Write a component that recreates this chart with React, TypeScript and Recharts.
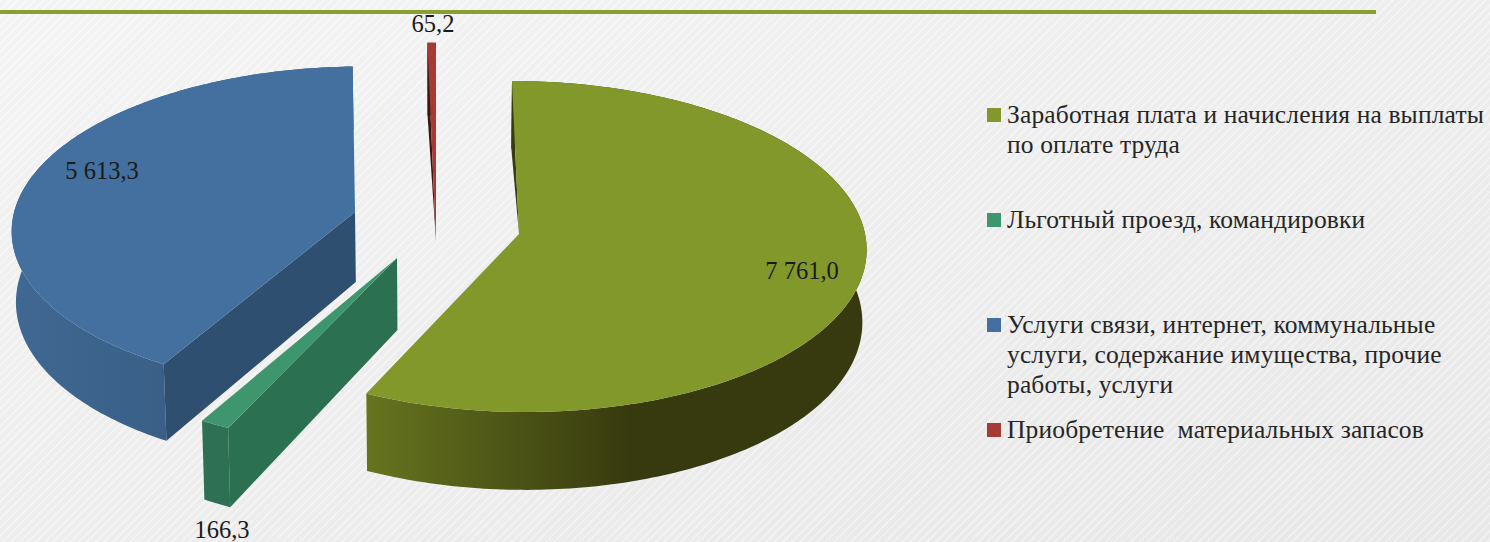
import React from "react";
import { PieChart, Pie, Legend } from "recharts";

const CATEGORIES = [
  "Заработная плата и начисления на выплаты по оплате труда",
  "Льготный проезд, командировки",
  "Услуги связи, интернет, коммунальные услуги, содержание имущества, прочие работы, услуги",
  "Приобретение  материальных запасов",
];
const VALUES = [7761.0, 166.3, 5613.3, 65.2];
const VALUE_LABELS = ["7 761,0", "166,3", "5 613,3", "65,2"];
const COLORS = ["#83982a", "#3d966e", "#43709e", "#a63a35"];
const EDGE_COLORS = ["#363b10", "#2c7052", "#2f4f70", "#3d1512"];
const WALL_STOPS: [number, string][][] = [
  [[0, "#66741f"], [0.53, "#373a0e"], [1, "#373a0e"]],
  [[0, "#2e7053"], [1, "#2e7053"]],
  [[0, "#3f6892"], [1, "#33557a"]],
  [[0, "#3d1512"], [1, "#3d1512"]],
];

// Slice placement relative to the pie's centre: explosion, ellipse scale, perspective, thickness.
const GEOMETRY = [
  { dx: 83, dy: -6, rx: 1.003, ry: 0.477, p: 0.0755, depth: 72, shear: 7, labelDx: 283, labelDy: 36 },
  { dx: -39, dy: 18, rx: 1.04, ry: 0.496, p: 0.1, depth: 72, shear: 0, labelDx: -175, labelDy: 271 },
  { dx: -81, dy: -28, rx: 0.988, ry: 0.464, p: 0.1, depth: 70, shear: -7, labelDx: -253, labelDy: -42 },
  { dx: 0, dy: 1, rx: 0.905, ry: 0.632, p: 0.1, depth: 80, shear: 0, labelDx: -3, labelDy: -218 },
];

const VANISH_X = 440;
const SHRINK = 0.01;
const CHART_W = 1490;
const CHART_H = 542;
const PIE_CX = 436;
const PIE_CY = 240;
const PIE_R = 345;
const SERIF = '"Liberation Serif", serif';

const tableData = CATEGORIES.map((name, i) => ({ name, value: VALUES[i], fill: COLORS[i] }));

function SliceShape(props: any) {
  const i = CATEGORIES.indexOf(props.name ?? props.payload?.name);
  const g = GEOMETRY[i];
  const cx = props.cx + g.dx;
  const cy = props.cy + g.dy;
  const rx = props.outerRadius * g.rx;
  const ry = props.outerRadius * g.ry;
  const a0 = ((90 - props.startAngle) * Math.PI) / 180;
  const a1 = ((90 - props.endAngle) * Math.PI) / 180;

  const project = (t: number, bottom: boolean) => {
    const u = Math.sin(t);
    const v = -Math.cos(t);
    const s = 1 / (1 - g.p * v);
    let x = cx + rx * u * s + g.shear * v;
    let y = cy + ry * v * s;
    if (bottom) {
      y += g.depth * s;
      x += (VANISH_X - x) * SHRINK;
    }
    return [x, y];
  };
  const centre = (bottom: boolean) => {
    let x = cx;
    let y = cy;
    if (bottom) {
      y += g.depth;
      x += (VANISH_X - x) * SHRINK;
    }
    return [x, y];
  };

  const steps = Math.max(4, Math.ceil((a1 - a0) * 60));
  const top: number[][] = [];
  const low: number[][] = [];
  for (let k = 0; k <= steps; k++) {
    const t = a0 + ((a1 - a0) * k) / steps;
    top.push(project(t, false));
    low.push(project(t, true));
  }
  const d = (pts: number[][]) =>
    "M" + pts.map((p) => p[0].toFixed(2) + " " + p[1].toFixed(2)).join("L") + "Z";

  const xs = top.concat(low).map((p) => p[0]);
  const xmin = Math.min(...xs);
  const xmax = Math.max(...xs);
  const gid = "wall" + i;

  // The wall along the starting edge: seen edge-on when that edge points away from the viewer.
  const startsBack = -Math.cos(a0) < 0;
  const startWall = startsBack
    ? [top[0], low[0], centre(false)]
    : [top[0], low[0], centre(true), centre(false)];

  return (
    <g>
      <defs>
        <linearGradient id={gid} gradientUnits="userSpaceOnUse" x1={xmin} x2={xmax} y1={0} y2={0}>
          {WALL_STOPS[i].map(([o, c], k) => (
            <stop key={k} offset={o} stopColor={c} />
          ))}
        </linearGradient>
      </defs>
      <path d={d(top.concat(low.slice().reverse()))} fill={`url(#${gid})`} />
      <path d={d(startWall)} fill={EDGE_COLORS[i]} />
      <path d={d([centre(false), ...top])} fill={props.fill} />
    </g>
  );
}

function renderLabel(props: any) {
  const i = CATEGORIES.indexOf(props.name ?? props.payload?.name);
  const g = GEOMETRY[i];
  return (
    <text
      x={PIE_CX + g.dx + g.labelDx}
      y={PIE_CY + g.dy + g.labelDy}
      textAnchor="middle"
      dominantBaseline="central"
      fontFamily={SERIF}
      fontSize={24.5}
      fill="#1a1a1a"
    >
      {VALUE_LABELS[i]}
    </text>
  );
}

function LegendContent({ payload }: any) {
  return (
    <div>
      {(payload || []).map((entry: any) => (
        <div key={entry.value} style={{ height: 105, display: "flex", alignItems: "flex-start" }}>
          <span
            style={{
              width: 14,
              height: 14,
              marginTop: 8,
              marginRight: 6,
              flex: "none",
              background: entry.color,
            }}
          />
          <span
            style={{
              fontFamily: SERIF,
              fontSize: 25.5,
              letterSpacing: 0.15,
              lineHeight: "30px",
              color: "#262626",
              whiteSpace: "pre-wrap",
              width: 481,
            }}
          >
            {entry.value}
          </span>
        </div>
      ))}
    </div>
  );
}

export default function App() {
  return (
    <div
      style={{
        position: "fixed",
        left: 0,
        top: 0,
        width: CHART_W,
        height: CHART_H,
        overflow: "hidden",
        background:
          "repeating-linear-gradient(135deg, rgba(255,255,255,0.3) 0 2px, rgba(0,0,0,0.008) 2px 6px), linear-gradient(160deg, #f5f5f5, #e9e9e9)",
      }}
    >
      <div style={{ position: "absolute", left: 0, top: 10, width: 1376, height: 4, background: "#8a9f33" }} />
      <PieChart width={CHART_W} height={CHART_H} margin={{ top: 0, right: 0, bottom: 0, left: 0 }}>
        <Pie
          data={tableData}
          dataKey="value"
          nameKey="name"
          cx={PIE_CX}
          cy={PIE_CY}
          outerRadius={PIE_R}
          startAngle={90}
          endAngle={-270}
          stroke="none"
          isAnimationActive={false}
          shape={SliceShape}
          label={renderLabel}
          labelLine={false}
        />
        <Legend
          layout="vertical"
          align="right"
          verticalAlign="top"
          itemSorter={null}
          content={<LegendContent />}
          wrapperStyle={{ position: "absolute", left: 987, top: 100, width: 501 }}
        />
      </PieChart>
    </div>
  );
}
